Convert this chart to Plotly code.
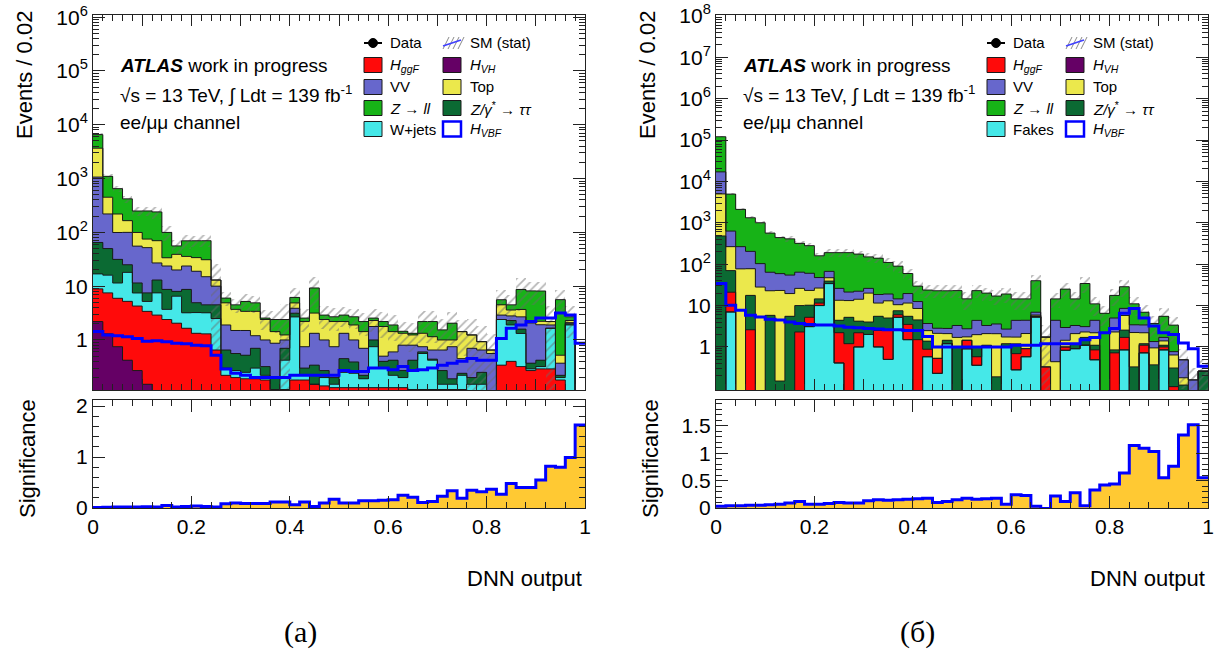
import numpy as np
import plotly.graph_objects as go

W, H = 1222, 657
FONT = "Liberation Sans"

bin_edges = np.linspace(0.0, 1.0, 51)
bin_centers = 0.5 * (bin_edges[:-1] + bin_edges[1:])
bin_width = 0.02

# ---------------- panel (a): stack order bottom -> top ----------------
a_hvh = [2.2, 1.3, 0.75, 0.42, 0.27, 0.15, 0, 0, 0, 0,
         0, 0, 0, 0, 0, 0, 0, 0, 0, 0,
         0, 0, 0, 0, 0, 0, 0, 0, 0, 0,
         0, 0, 0, 0, 0, 0, 0, 0, 0, 0,
         0, 0, 0, 0, 0, 0, 0, 0, 0, 0]
a_hggf = [6.7, 6.2, 5.2, 4.8, 4.0, 3.25, 2.9, 2.4, 2.05, 1.65,
          1.33, 1.3, 0.65, 0.22, 0.2, 0.19, 0.19, 0.18, 0.1, 0.12,
          0.18, 0.18, 0.15, 0.14, 0.13, 0.13, 0.13, 0.13, 0.13, 0.13,
          0.13, 0.13, 0.12, 0.12, 0.12, 0.12, 0.12, 0.12, 0.1, 0.1,
          0.05, 0.34, 0.4, 0.32, 0.27, 0.29, 0.29, 0.18, 0, 0]
a_wjets = [8, 8.5, 5.5, 12.8, 3.2, 1.8, 4.6, 1.3, 4.45, 1.55,
           1.9, 1.9, 1.85, 0.08, 0.07, 0.06, 0.11, 0.04, 0.02, 0.3,
           2.5, 0.04, 0, 0.06, 0.02, 0.12, 0.11, 0.06, 0.62, 0.17,
           0.09, 0.07, 0.15, 0.44, 0.3, 0.03, 0.03, 0.1, 0.05, 0.05,
           0, 2.06, 1.5, 1.0, 0.02, 0.03, 1.36, 0.02, 1.9, 0]
a_ztt = [48, 34, 20, 7, 4, 2.3, 5.5, 5, 1.5, 5.5,
         1.7, 1.3, 2, 0.35, 0.29, 0.27, 0.4, 0.1, 0.08, 0.28,
         0.46, 0.08, 0.19, 0.07, 0.05, 0.2, 0.15, 0.03, 0.25, 0.1,
         0.2, 0.07, 0.15, 0.04, 0.02, 0.12, 0.04, 0.02, 0.05, 0.1,
         0.05, 0, 0.4, 0.27, 0.08, 0.1, 0, 0.02, 0.1, 0]
a_vv = [1000, 170, 68, 75, 44, 44.5, 14, 15, 12, 15,
        14, 10.5, 5.5, 1.25, 0.94, 0.98, 0.5, 0.68, 0.67, 0.3,
        0.74, 0.45, 0.99, 0.73, 0.55, 0.88, 0.61, 0.48, 0.78, 0.1,
        0.18, 0.53, 0.38, 0.15, 0.21, 0.38, 0.56, 0.21, 0.5, 0.4,
        0.46, 0.5, 0.5, 1.1, 1.7, 1.5, 0.25, 0.15, 0.1, 0]
a_top = [2600, 230, 120, 65, 44, 23, 43, 10, 19, 12,
         15, 16, 3, 3.0, 2.2, 1.9, 2.2, 1.4, 0.56, 0.24,
         1.0, 1.45, 1.83, 1.4, 1.45, 0.87, 0.9, 0.73, 0.52, 1.28,
         0.83, 0.53, 0.44, 0.58, 0.5, 0.35, 0.25, 0.98, 0.54, 0.28,
         0.09, 1.6, 0.8, 1.0, 0.1, 0.3, 0.3, 0.15, 0.2, 0]
a_zll = [2900, 650, 430, 255, 150, 175, 170, 66, 17, 34,
         36, 39, 0, 1.1, 0.8, 1.8, 1.5, 0.15, 0.97, 1.16,
         1.3, 0.35, 6.1, 0.5, 0.5, 0.7, 0.8, 0.77, 0.25, 0.42,
         0.47, 0.12, 0.09, 0.87, 1.05, 0.54, 1.05, 0, 0, 0,
         0, 1.1, 0.9, 5.0, 6.0, 5.9, 0, 5.1, 0.4, 0]
a_hvbf = [1.43, 1.24, 1.2, 1.15, 1.07, 0.95, 0.97, 0.93, 0.87, 0.85,
          0.8, 0.78, 0.52, 0.29, 0.24, 0.22, 0.2, 0.2, 0.2, 0.2,
          0.22, 0.22, 0.22, 0.22, 0.22, 0.27, 0.26, 0.26, 0.3, 0.3,
          0.28, 0.32, 0.27, 0.28, 0.3, 0.34, 0.37, 0.4, 0.45, 0.42,
          0.42, 1.07, 1.65, 1.9, 2.2, 2.55, 2.55, 3.16, 2.9, 0.87]
a_stat_rel = [0.05, 0.1, 0.12, 0.15, 0.2, 0.2, 0.25, 0.3, 0.3, 0.3,
              0.25, 0.25, 0.95, 0.3, 0.3, 0.35, 0.35, 0.4, 0.45, 0.95,
              0.5, 0.45, 0.6, 0.45, 0.45, 0.4, 0.4, 0.45, 0.45, 0.5,
              0.5, 0.5, 0.55, 0.6, 0.6, 0.6, 0.6, 0.65, 0.95, 0.95,
              0.95, 0.5, 0.55, 0.6, 0.45, 0.45, 0.95, 0.5, 0.6, 0]
a_signif = [0.01, 0.015, 0.02, 0.02, 0.02, 0.025, 0.02, 0.05, 0.02, 0.03,
            0.04, 0.03, 0.02, 0.085, 0.1, 0.09, 0.09, 0.09, 0.12, 0.12,
            0.065, 0.12, 0.03, 0.1, 0.17, 0.1, 0.1, 0.14, 0.14, 0.15,
            0.16, 0.25, 0.21, 0.11, 0.13, 0.23, 0.34, 0.19, 0.35, 0.32,
            0.37, 0.27, 0.48, 0.4, 0.4, 0.55, 0.82, 0.8, 0.99, 1.63]

# ---------------- panel (б): stack order bottom -> top ----------------
b_fakes = [0, 7, 0, 0, 0, 0, 0, 0, 0, 3.1,
           10, 34, 0.41, 0, 1.0, 2.0, 1.0, 0.5, 5.2, 1.5,
           0, 0.58, 0.23, 1.2, 0, 0.9, 0.36, 1.0, 0, 1.0,
           0.28, 0.58, 5.3, 0, 0, 0.83, 0.91, 1.1, 0.49, 0,
           0, 0.85, 0, 0.72, 0, 0.85, 0, 0, 0, 0]
b_hvh = [0, 0, 0, 0, 0, 0, 0, 0, 0, 0,
         0, 0, 0, 0, 0, 0, 0, 0, 0, 0,
         0, 0, 0, 0, 0, 0, 0, 0, 0, 0,
         0, 0, 0, 0, 0, 0, 0, 0, 0, 0,
         0, 0, 0, 0, 0, 0, 0, 0, 0, 0]
b_hggf = [0, 14, 0, 2.6, 0, 0, 0, 0, 2.3, 2.1,
          1.5, 0, 1.8, 1.2, 1.2, 0, 1.5, 2, 0.8, 2,
          1.5, 0.3, 0.3, 0, 0, 0.55, 0.22, 0, 0, 0,
          0.41, 0.33, 0, 0.33, 0, 0.17, 0, 0, 0.36, 0,
          0.72, 0.85, 0, 0.38, 0, 0.15, 0.11, 0, 0, 0]
b_ztt = [480, 49, 0, 15, 0, 5.8, 0.15, 5.5, 7.7, 5,
         3, 5, 2.2, 4, 2, 2, 3, 2.5, 1.5, 2,
         3, 0.5, 0, 0.25, 1.0, 0, 0.4, 0.1, 0.19, 0.2,
         0.5, 0, 0.3, 0, 0, 0, 0.29, 0.6, 0.25, 0,
         0.13, 0.85, 0.33, 0.1, 0.37, 0.1, 0.2, 0.12, 0, 0.26]
b_top = [4500, 195, 77, 60, 28, 17, 23, 14, 16, 13,
         12, 8, 9, 8, 10, 16, 6, 8, 3, 6,
         4, 1.1, 1.6, 0.65, 0.7, 0.3, 1.0, 1.0, 1.9, 0.54,
         0.54, 1.2, 0.3, 1.4, 0.44, 0.45, 0.9, 0.6, 1.1, 0,
         1.45, 3.2, 1.9, 1.0, 0.58, 0.3, 0.33, 0.06, 0, 0]
b_vv = [12000, 365, 188, 126, 75, 41, 36, 35, 38, 37,
        21, 20, 12.6, 8, 8, 6, 7, 6, 4, 8,
        4, 1.2, 0.7, 0.7, 1.6, 1.0, 2.4, 1.2, 1.5, 0.96,
        2.66, 2.3, 1.0, 0, 3.96, 1.5, 1.2, 0.8, 2.2, 0,
        2.7, 2.8, 1.2, 1.2, 0.4, 0.3, 0.13, 0.31, 0.16, 0]
b_zll = [103000, 4300, 1840, 1120, 900, 500, 380, 355, 255, 220,
         112, 123, 164, 169, 153, 124, 121, 91, 75, 40,
         17, 20, 20, 20, 19.7, 11.8, 18.6, 16.7, 13.4, 16.3,
         10.1, 10.1, 33, 0, 10.1, 22, 11.2, 31, 6.6, 6.5,
         12.6, 20, 7.6, 3.5, 2.35, 3.8, 2.6, 0, 0, 0]
b_hvbf = [34, 10.2, 7.7, 5.8, 5.3, 4.7, 4.5, 4.0, 3.7, 3.5,
          3.4, 3.4, 3.2, 3.0, 2.9, 2.8, 2.7, 2.6, 2.6, 2.5,
          2.5, 1.8, 1.0, 1.0, 1.0, 1.0, 1.0, 1.0, 1.0, 1.0,
          1.1, 1.1, 1.1, 1.2, 1.2, 1.2, 1.2, 1.5, 1.7, 2.2,
          2.8, 6.5, 8.5, 5.0, 3.2, 2.2, 2.0, 1.25, 0.9, 0.34]
b_stat_rel = [0.02, 0.05, 0.08, 0.1, 0.1, 0.12, 0.12, 0.15, 0.15, 0.15,
              0.2, 0.2, 0.2, 0.2, 0.2, 0.25, 0.25, 0.25, 0.3, 0.3,
              0.35, 0.35, 0.35, 0.35, 0.35, 0.45, 0.35, 0.35, 0.4, 0.4,
              0.45, 0.45, 0.4, 0.95, 0.4, 0.4, 0.45, 0.4, 0.5, 0.5,
              0.45, 0.45, 0.5, 0.5, 0.55, 0.55, 0.6, 0.8, 0.9, 0.95]
b_signif = [0.03, 0.04, 0.04, 0.05, 0.05, 0.06, 0.07, 0.09, 0.12, 0.07,
            0.07, 0.08, 0.1, 0.09, 0.09, 0.13, 0.15, 0.14, 0.15, 0.16,
            0.17, 0.18, 0.1, 0.12, 0.15, 0.18, 0.16, 0.17, 0.18, 0.07,
            0.24, 0.23, 0.03, -0.01, 0.22, 0.12, 0.28, 0.04, 0.33, 0.42,
            0.44, 0.64, 1.14, 1.09, 1.03, 0.55, 0.76, 1.33, 1.52, 0.55]

C_ZLL = "#17b317"
C_VV = "#6767cc"
C_TOP = "#ebe84c"
C_ZTT = "#0b6a33"
C_CYAN = "#45e8e8"
C_GGF = "#ff0a0a"
C_VH = "#650065"
C_VBF = "#0000ff"
C_SIG = "#ffc933"
C_FRAME = "#222222"

a_comps = [a_hvh, a_hggf, a_wjets, a_ztt, a_vv, a_top, a_zll]
a_colors = [C_VH, C_GGF, C_CYAN, C_ZTT, C_VV, C_TOP, C_ZLL]
b_comps = [b_fakes, b_hvh, b_hggf, b_ztt, b_top, b_vv, b_zll]
b_colors = [C_CYAN, C_VH, C_GGF, C_ZTT, C_TOP, C_VV, C_ZLL]

fig = go.Figure()


def step_xy(vals):
    v = np.asarray(vals, dtype=float)
    return bin_edges, np.append(v, v[-1])


def add_stack(comps, colors, stat_rel, vbf, xa, ya):
    cum = np.cumsum(np.array(comps, dtype=float), axis=0)
    total = cum[-1]
    for k in range(len(comps) - 1, -1, -1):
        fig.add_trace(go.Bar(x=bin_centers, y=cum[k], width=bin_width,
                             marker=dict(color=colors[k], line=dict(width=0)),
                             xaxis=xa, yaxis=ya, hoverinfo="skip"))
    rel = np.array(stat_rel, dtype=float)
    lo = total * (1 - rel)
    hi = total * (1 + rel)
    fig.add_trace(go.Bar(x=bin_centers, y=hi - lo, base=lo, width=bin_width,
                         marker=dict(color="rgba(0,0,0,0)", line=dict(width=0),
                                     pattern=dict(shape="/", fgcolor="#6a6a6a",
                                                  bgcolor="rgba(0,0,0,0)",
                                                  size=6, solidity=0.28)),
                         xaxis=xa, yaxis=ya, hoverinfo="skip"))
    for k in range(len(comps) - 1, -1, -1):
        yk = np.where(cum[k] > 0, cum[k], 1e-3)
        sx, sy = step_xy(yk)
        fig.add_trace(go.Scatter(x=sx, y=sy, mode="lines",
                                 line=dict(color="#1a1a1a", width=1, shape="hv"),
                                 xaxis=xa, yaxis=ya, hoverinfo="skip"))
    sx, sy = step_xy(vbf)
    fig.add_trace(go.Scatter(x=sx, y=sy, mode="lines",
                             line=dict(color=C_VBF, width=3, shape="hv"),
                             xaxis=xa, yaxis=ya, hoverinfo="skip"))


def add_sig(sig, xa, ya):
    fig.add_trace(go.Bar(x=bin_centers, y=sig, width=bin_width,
                         marker=dict(color=C_SIG, line=dict(width=0)),
                         xaxis=xa, yaxis=ya, hoverinfo="skip"))
    sx, sy = step_xy(sig)
    fig.add_trace(go.Scatter(x=sx, y=sy, mode="lines",
                             line=dict(color=C_VBF, width=3, shape="hv"),
                             xaxis=xa, yaxis=ya, hoverinfo="skip"))


add_stack(a_comps, a_colors, a_stat_rel, a_hvbf, "x", "y")
add_sig(a_signif, "x2", "y2")
add_stack(b_comps, b_colors, b_stat_rel, b_hvbf, "x3", "y3")
add_sig(b_signif, "x4", "y4")


def px(x):
    return x / W


def py(y):
    return 1 - y / H


tickfont = dict(family=FONT, size=21, color="black")
common = dict(showline=True, linecolor=C_FRAME, linewidth=1, mirror="allticks",
              ticks="inside", tickcolor=C_FRAME, tickwidth=1, showgrid=False,
              zeroline=False, tickfont=tickfont, automargin=False)


def main_x(dom, anchor):
    return dict(common, domain=dom, anchor=anchor, range=[0, 1], tickmode="linear",
                tick0=0, dtick=0.1, ticklen=11, showticklabels=False,
                minor=dict(tickmode="linear", tick0=0, dtick=0.02, ticks="inside",
                           ticklen=6, tickcolor=C_FRAME, showgrid=False))


def sig_x(dom, anchor):
    return dict(common, domain=dom, anchor=anchor, range=[0, 1], tickmode="linear",
                tick0=0, dtick=0.2, ticklen=12,
                minor=dict(tickmode="linear", tick0=0, dtick=0.04, ticks="inside",
                           ticklen=6, tickcolor=C_FRAME, showgrid=False))


def main_y(dom, anchor, top_exp, rng):
    vals = [10 ** e for e in range(0, top_exp + 1)]
    text = ["1", "10"] + ["10<sup>%d</sup>" % e for e in range(2, top_exp + 1)]
    minors = [m * 10 ** e for e in range(-2, top_exp + 1) for m in range(2, 10)]
    return dict(common, domain=dom, anchor=anchor, type="log", range=rng,
                tickmode="array", tickvals=vals, ticktext=text, ticklen=12,
                minor=dict(tickmode="array", tickvals=minors, ticks="inside",
                           ticklen=6, tickcolor=C_FRAME, showgrid=False))


def sig_y(dom, anchor, rng, dtick, mdtick):
    return dict(common, domain=dom, anchor=anchor, range=rng, tickmode="linear",
                tick0=0, dtick=dtick, ticklen=12,
                minor=dict(tickmode="linear", tick0=0, dtick=mdtick, ticks="inside",
                           ticklen=6, tickcolor=C_FRAME, showgrid=False))


XA = [px(93), px(585)]
XB = [px(716), px(1208)]
YMAIN = [py(390), py(15)]
YSIG = [py(508), py(400)]

fig.update_layout(
    width=W, height=H, margin=dict(l=0, r=0, t=0, b=0, autoexpand=False),
    autosize=False,
    paper_bgcolor="white", plot_bgcolor="white", showlegend=False,
    barmode="overlay", bargap=0,
    font=dict(family=FONT, color="black"),
    xaxis=main_x(XA, "y"), yaxis=main_y(YMAIN, "x", 6, [-0.93, 6.04]),
    xaxis2=sig_x(XA, "y2"), yaxis2=sig_y(YSIG, "x2", [0, 2.12], 1, 0.2),
    xaxis3=main_x(XB, "y3"), yaxis3=main_y(YMAIN, "x3", 8, [-1.04, 8.02]),
    xaxis4=sig_x(XB, "y4"), yaxis4=sig_y(YSIG, "x4", [0, 1.97], 0.5, 0.1),
)

annotations = []
shapes = []


def text(x, y, s, size, xanchor="left", angle=0, family=FONT):
    annotations.append(dict(x=px(x), y=py(y), xref="paper", yref="paper", text=s,
                            showarrow=False, xanchor=xanchor, yanchor="middle",
                            textangle=angle,
                            font=dict(family=family, size=size, color="black")))


def box(x0, yc, color, line_color="#1a1a1a", lw=1):
    shapes.append(dict(type="rect", xref="paper", yref="paper",
                       x0=px(x0), x1=px(x0 + 18), y0=py(yc + 7.5), y1=py(yc - 7.5),
                       fillcolor=color, line=dict(color=line_color, width=lw)))


def line(x0, y0, x1, y1, color, w):
    shapes.append(dict(type="line", xref="paper", yref="paper",
                       x0=px(x0), y0=py(y0), x1=px(x1), y1=py(y1),
                       line=dict(color=color, width=w)))


rows = [43, 65, 87, 108, 129]
for off, label5 in [(0, "W+jets"), (623, "Fakes")]:
    # axis titles
    text(25 + off, 75, "Events / 0.02", 22, xanchor="center", angle=-90)
    text(27 + off, 459, "Significance", 22, xanchor="center", angle=-90)
    text(584 + off, 578, "DNN output", 22, xanchor="right")
    # ATLAS label
    text(118 + off, 65, "<b><i>ATLAS</i></b> work in progress", 19)
    text(118 + off, 94, "\u221as = 13 TeV, \u222b Ldt = 139 fb<sup>-1</sup>", 19)
    text(118 + off, 122, "ee/\u03bc\u03bc channel", 19)
    # legend column 1
    bx1, tx1 = 364 + off, 388 + off
    bx2, tx2 = 443 + off, 468 + off
    line(bx1, rows[0], bx1 + 18, rows[0], "black", 2)
    shapes.append(dict(type="circle", xref="paper", yref="paper",
                       x0=px(bx1 + 4.5), x1=px(bx1 + 13.5),
                       y0=py(rows[0] + 4.5), y1=py(rows[0] - 4.5),
                       fillcolor="black", line=dict(color="black", width=1)))
    text(tx1, rows[0], "Data", 15)
    box(bx1, rows[1], C_GGF)
    text(tx1, rows[1], "<i>H</i><sub><i>ggF</i></sub>", 15)
    box(bx1, rows[2], C_VV)
    text(tx1, rows[2], "VV", 15)
    box(bx1, rows[3], C_ZLL)
    text(tx1, rows[3], "<i>Z</i> \u2192 <i>ll</i>", 15)
    box(bx1, rows[4], C_CYAN)
    text(tx1, rows[4], label5, 15)
    # legend column 2
    for i in range(4):
        xs = bx2 + i * 5
        line(xs, rows[0] + 6, xs + 6, rows[0] - 6, "#8a8a8a", 1)
    line(bx2, rows[0] + 3, bx2 + 18, rows[0] - 3, "#4040ff", 1.5)
    text(tx2, rows[0], "SM (stat)", 15)
    box(bx2, rows[1], C_VH)
    text(tx2, rows[1], "<i>H</i><sub><i>VH</i></sub>", 15)
    box(bx2, rows[2], C_TOP)
    text(tx2, rows[2], "Top", 15)
    box(bx2, rows[3], C_ZTT)
    text(tx2, rows[3], "<i>Z/\u03b3</i><sup>*</sup> \u2192 <i>\u03c4\u03c4</i>", 15)
    box(bx2, rows[4], "white", line_color=C_VBF, lw=2.5)
    text(tx2, rows[4], "<i>H</i><sub><i>VBF</i></sub>", 15)

text(300, 632, "(a)", 30, xanchor="center", family="Liberation Serif")
text(918, 632, "(\u0431)", 30, xanchor="center", family="Liberation Serif")

fig.update_layout(annotations=annotations, shapes=shapes)
fig.write_html("out.html")
